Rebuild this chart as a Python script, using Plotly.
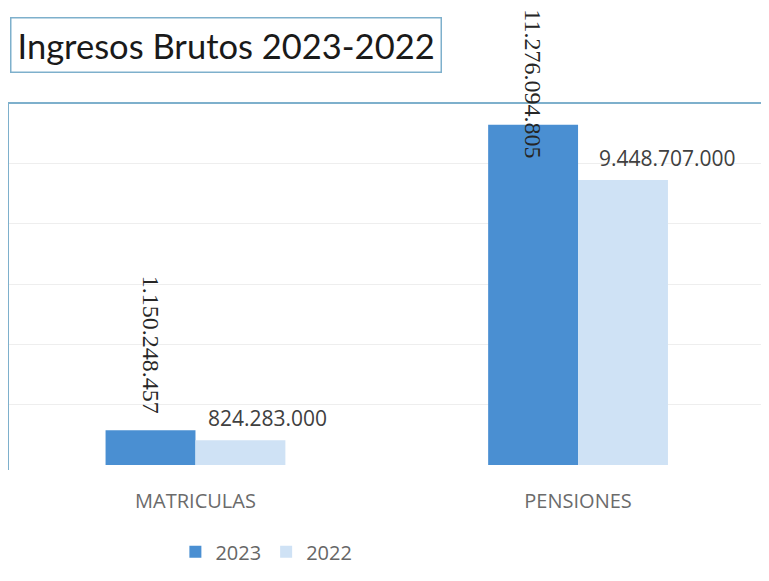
import plotly.graph_objects as go

categories = ["MATRICULAS", "PENSIONES"]
series_names = ["2023", "2022"]
values_2023 = [1150248457, 11276094805]
values_2022 = [824283000, 9448707000]
labels_2023 = ["1.150.248.457", "11.276.094.805"]
labels_2022 = ["824.283.000", "9.448.707.000"]

color_2023 = "#4a8fd2"
color_2022 = "#cfe2f5"
border_color = "#7eb0cc"

fig = go.Figure()
fig.add_trace(go.Bar(x=categories, y=values_2023, name=series_names[0],
                     marker=dict(color=color_2023, line=dict(width=0))))
fig.add_trace(go.Bar(x=categories, y=values_2022, name=series_names[1],
                     marker=dict(color=color_2022, line=dict(width=0))))

# data labels
v_shift_2023 = [14, -35]
x_shift_2022 = [11, 19]
for i, c in enumerate(categories):
    fig.add_annotation(x=c, y=values_2023[i], xref="x", yref="y",
                       text=labels_2023[i], textangle=90, showarrow=False,
                       xanchor="center", yanchor="bottom", xshift=-45,
                       yshift=v_shift_2023[i],
                       font=dict(family="Liberation Serif", size=24, color="#262626"))
    fig.add_annotation(x=c, y=values_2022[i], xref="x", yref="y",
                       text=labels_2022[i], showarrow=False,
                       xanchor="left", yanchor="bottom", xshift=x_shift_2022[i],
                       yshift=6,
                       font=dict(family="Open Sans", size=21, color="#404040"))

# title box
fig.add_annotation(text="Ingresos Brutos 2023-2022", xref="paper", yref="paper",
                   x=0.003, y=1.238, xanchor="left", yanchor="top", showarrow=False,
                   font=dict(family="Lato", size=34.5, color="#1a1a1a"),
                   bordercolor=border_color, borderwidth=1.5, borderpad=6,
                   bgcolor="white")

# chart area border (top and left)
fig.add_shape(type="line", xref="paper", yref="paper", x0=-0.003, x1=1.0, y0=1.0, y1=1.0,
              line=dict(color=border_color, width=2))
fig.add_shape(type="line", xref="paper", yref="paper", x0=0.0, x1=0.0, y0=1.0, y1=-0.014,
              line=dict(color=border_color, width=2))

fig.update_layout(
    width=769, height=581,
    margin=dict(l=0, r=0, t=95, b=124),
    paper_bgcolor="white", plot_bgcolor="white",
    barmode="group", bargap=0.53, bargroupgap=0,
    showlegend=True,
    legend=dict(orientation="h", xref="container", yref="container",
                x=0.336, y=0.064, xanchor="center", yanchor="middle",
                font=dict(family="Open Sans", size=20, color="#666666"),
                itemwidth=30, traceorder="normal"),
    xaxis=dict(range=[-0.49, 1.52], showgrid=False, showline=False, zeroline=False,
               ticks="", ticklabelstandoff=22,
               tickfont=dict(family="Open Sans", size=20, color="#6b6b6b")),
    yaxis=dict(range=[0, 12e9], dtick=2e9, showgrid=True, gridcolor="#eeeeee",
               gridwidth=1, showticklabels=False, zeroline=False, showline=False),
)

fig.write_html("out.html")
